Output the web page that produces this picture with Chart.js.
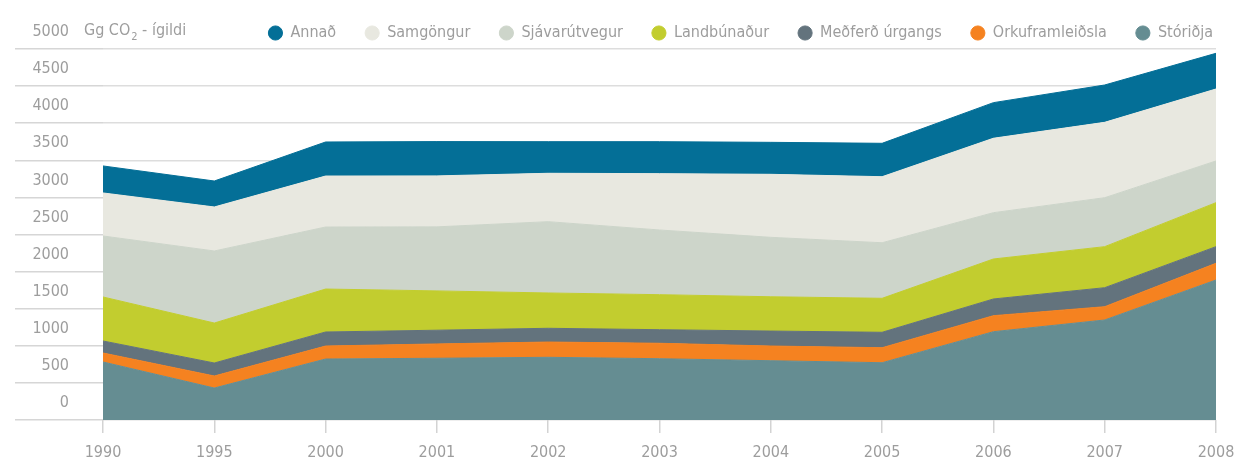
<!DOCTYPE html>
<html lang="is">
<head>
<meta charset="UTF-8">
<title>Losun gróðurhúsalofttegunda</title>
<style>
  html, body { margin: 0; padding: 0; background: #fff; }
  #wrap { width: 1237px; height: 465px; }
</style>
</head>
<body>
<div id="wrap"><canvas id="myChart"></canvas></div>
<script src="https://cdn.jsdelivr.net/npm/chart.js@4.4.1/dist/chart.umd.min.js"></script>
<script>
// ár
const years = ['1990', '1995', '2000', '2001', '2002', '2003', '2004', '2005', '2006', '2007', '2008'];

// Gg CO2-ígildi, lesið af myndinni
const storidja        = [782, 431, 822, 832, 845, 826, 799, 772, 1190, 1348, 1887];
const orkuframleidsla = [121, 162, 175, 193, 206, 208, 198, 202, 216, 179, 225];
const medferdUrgangs  = [162, 175, 189, 185, 185, 183, 202, 208, 225, 256, 224];
const landbunadur     = [593, 539, 579, 530, 476, 472, 462, 458, 539, 553, 593];
const sjavarutvegur   = [822, 971, 836, 863, 961, 872, 801, 749, 624, 660, 562];
const samgongur       = [580, 593, 687, 687, 652, 759, 849, 890, 1003, 1016, 970];
const annad           = [364, 350, 459, 462, 426, 431, 431, 450, 480, 503, 481];

const yTicks = [0, 500, 1000, 1500, 2000, 2500, 3000, 3500, 4000, 4500, 5000];

const FONT = "'Liberation Sans Narrow', 'DejaVu Sans Condensed', sans-serif";
const FSIZE = 16;
const GREY = '#9d9d9d';

// neðst fyrst (staflað), þjóðsagan er sýnd öfugt
const series = [
    ['Stóriðja', storidja, '#658d92'],
    ['Orkuframleiðsla', orkuframleidsla, '#f58220'],
    ['Meðferð úrgangs', medferdUrgangs, '#63737d'],
    ['Landbúnaður', landbunadur, '#c2cd2f'],
    ['Sjávarútvegur', sjavarutvegur, '#cdd5ca'],
    ['Samgöngur', samgongur, '#e8e8e0'],
    ['Annað', annad, '#046f97']
];

const datasets = series.map(function (s, i) {
    return {
        label: s[0],
        data: s[1],
        backgroundColor: s[2],
        borderColor: s[2],
        borderWidth: 1,
        pointRadius: 0,
        pointHoverRadius: 0,
        tension: 0,
        fill: i === 0 ? 'origin' : '-1'
    };
});

// eining efst til vinstri
const unitLabel = {
    id: 'unitLabel',
    afterDraw(chart) {
        const c = chart.ctx;
        c.save();
        c.fillStyle = GREY;
        c.textBaseline = 'middle';
        c.textAlign = 'left';
        c.font = FSIZE + 'px ' + FONT;
        let x = 84;
        c.fillText('Gg CO', x, 31);
        x += c.measureText('Gg CO').width;
        c.font = '11px ' + FONT;
        c.fillText('2', x + 1, 37);
        x += c.measureText('2').width + 1;
        c.font = FSIZE + 'px ' + FONT;
        c.fillText(' - ígildi', x, 31);
        c.restore();
    }
};

const ctx = document.getElementById('myChart').getContext('2d');
new Chart(ctx, {
    type: 'line',
    data: { labels: years, datasets: datasets },
    plugins: [unitLabel],
    options: {
        responsive: true,
        maintainAspectRatio: false,
        animation: false,
        layout: { padding: { top: -4, right: -5, bottom: 0, left: 0 } },
        plugins: {
            tooltip: { enabled: false },
            legend: {
                position: 'top',
                align: 'end',
                reverse: true,
                maxHeight: 53,
                labels: {
                    usePointStyle: true,
                    pointStyle: 'circle',
                    boxWidth: 14,
                    boxHeight: 10,
                    padding: 29,
                    color: GREY,
                    font: { family: FONT, size: FSIZE }
                }
            }
        },
        scales: {
            x: {
                afterFit: function (scale) {
                    scale.height = 45;
                    scale.paddingLeft = 0;
                    scale.paddingRight = 21;
                },
                grid: {
                    drawOnChartArea: false,
                    drawTicks: true,
                    tickLength: 13,
                    color: '#d3d3d3',
                    lineWidth: 1.5
                },
                border: { display: false },
                ticks: {
                    color: GREY,
                    padding: 10,
                    maxRotation: 0,
                    font: { family: FONT, size: FSIZE }
                }
            },
            y: {
                stacked: true,
                min: 0,
                max: 5000,
                z: 1,
                afterFit: function (scale) { scale.width = 103; },
                afterBuildTicks: function (scale) {
                    scale.ticks = yTicks.map(function (v) { return { value: v }; });
                },
                grid: {
                    color: 'rgba(212,212,212,0.8)',
                    tickColor: '#d6d6d6',
                    lineWidth: 1.5,
                    drawTicks: true,
                    tickLength: 88
                },
                border: { display: false },
                ticks: {
                    color: GREY,
                    padding: -54,
                    labelOffset: -17,
                    font: { family: FONT, size: FSIZE },
                    callback: function (value) { return String(value); }
                }
            }
        }
    }
});
</script>
</body>
</html>
